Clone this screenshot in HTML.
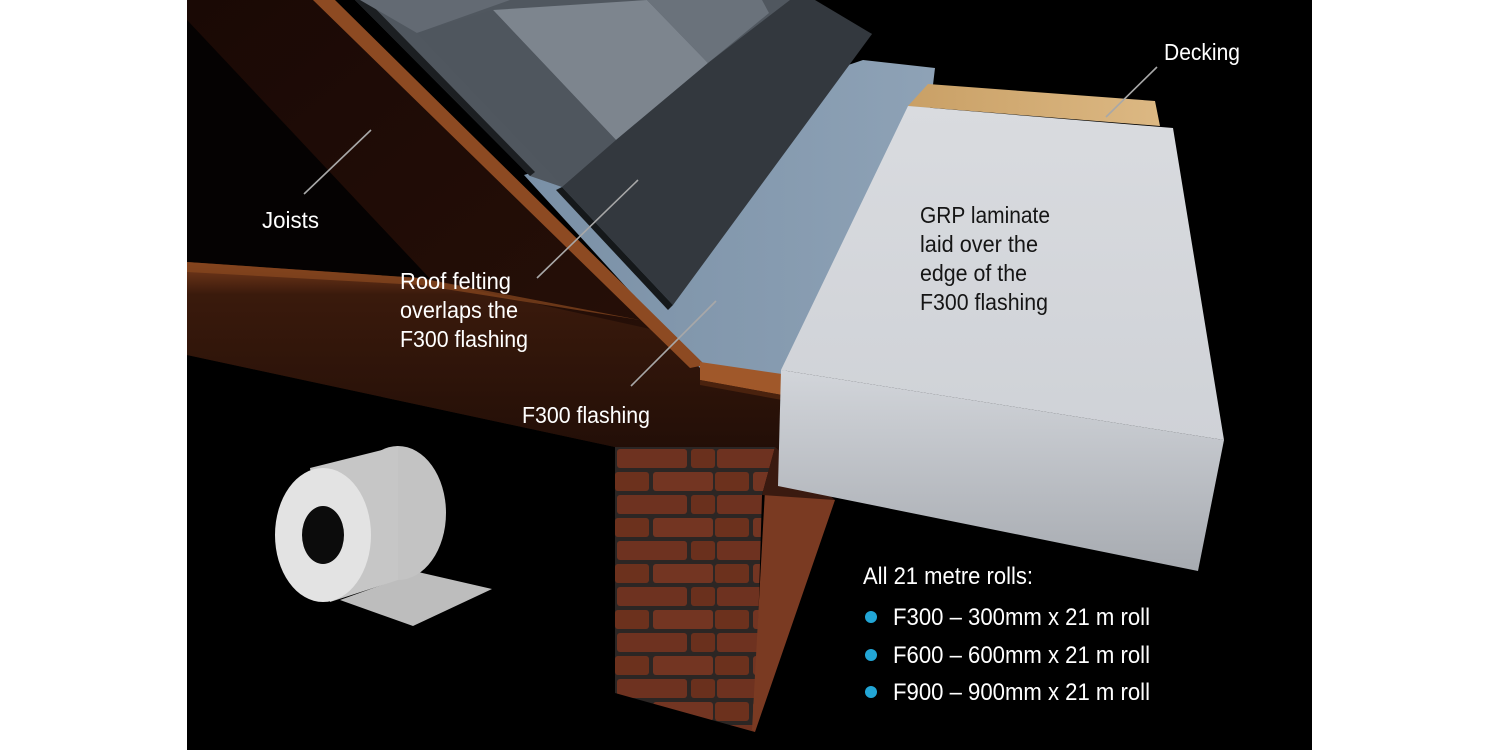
<!DOCTYPE html>
<html><head><meta charset="utf-8"><style>
html,body{margin:0;padding:0;background:#fff;}
svg{display:block}
text{font-family:"Liberation Sans",sans-serif;}
</style></head><body>
<svg width="1500" height="750" viewBox="0 0 1500 750" xmlns="http://www.w3.org/2000/svg">
<defs>
<linearGradient id="beam" x1="0" y1="0" x2="0" y2="1">
<stop offset="0" stop-color="#7a3c1c"/><stop offset="0.15" stop-color="#3a1a0c"/><stop offset="1" stop-color="#1e0c06"/></linearGradient>
<linearGradient id="wall" x1="0" y1="0" x2="1" y2="1">
<stop offset="0" stop-color="#1a0905"/><stop offset="1" stop-color="#2a1108"/></linearGradient>
<linearGradient id="flash" x1="0" y1="0" x2="1" y2="0">
<stop offset="0" stop-color="#7a90a6"/><stop offset="1" stop-color="#8ea2b6"/></linearGradient>
<linearGradient id="topf" x1="0" y1="0" x2="0" y2="1">
<stop offset="0" stop-color="#d9dbdf"/><stop offset="1" stop-color="#cfd2d7"/></linearGradient>
<linearGradient id="front" x1="0" y1="0" x2="0" y2="1">
<stop offset="0" stop-color="#d2d5da"/><stop offset="1" stop-color="#a7abb1"/></linearGradient>
<linearGradient id="deck" x1="0" y1="0" x2="1" y2="0">
<stop offset="0" stop-color="#c9a066"/><stop offset="1" stop-color="#dcb883"/></linearGradient>
<pattern id="brick" width="100" height="46" patternUnits="userSpaceOnUse" x="615" y="447">
<rect width="100" height="46" fill="#2c2624"/>
<rect x="2" y="2" width="70" height="19" rx="3" fill="#6e3220"/>
<rect x="76" y="2" width="24" height="19" rx="3" fill="#6a301d"/>
<rect x="0" y="25" width="34" height="19" rx="3" fill="#6c311d"/>
<rect x="38" y="25" width="60" height="19" rx="3" fill="#733522"/>
</pattern>
</defs>
<rect x="187" y="0" width="1125" height="750" fill="#000"/>
<polygon points="187,0 330,0 700,368 780,392 780,480 615,447 187,355" fill="url(#wall)"/>
<polygon points="187,20 187,262 450,300" fill="#050202"/>
<polygon points="187,262 420,278 700,340 780,395 780,480 615,447 187,355" fill="url(#beam)"/>
<polygon points="187,262 420,278 640,320 420,285 187,272" fill="#8a4820" opacity="0.7"/>
<polygon points="615,447 775,447 762,495 755,732 615,693" fill="url(#brick)"/>
<polygon points="765,490 835,500 755,732 752,730" fill="#7a3a22"/>
<polygon points="775,447 835,500 762,495" fill="#3a1a10"/>
<polygon points="524,175 540,170 863,60 935,68 930,110 781,380 700,368" fill="url(#flash)"/>
<polygon points="355,0 800,0 872,34 562,187 530,176" fill="#50575f"/>
<polygon points="355,0 367,0 535,172 530,176" fill="#1c1f22"/>
<polygon points="360,0 510,0 417,33" fill="#636a73"/>
<polygon points="493,10 647,0 708,63 616,140" fill="#7d858e"/>
<polygon points="647,0 762,0 769,13 708,63" fill="#6a727b"/>
<polygon points="417,33 493,10 616,140 562,185" fill="#4f565e"/>
<polygon points="562,187 616,140 708,63 790,0 815,0 872,34 673,305" fill="#33383e"/>
<polygon points="562,187 673,305 668,310 556,190" fill="#15181a"/>
<polygon points="313,0 335,0 705,365 690,368" fill="#8d4a22"/>
<polygon points="700,362 782,374 782,395 700,380" fill="#a0582a"/>
<polygon points="700,380 782,395 782,400 700,385" fill="#4a220e"/>
<polygon points="928,84 1155,101 1160,126 908,106" fill="url(#deck)"/>
<polygon points="908,106 1173,128 1224,440 781,370" fill="url(#topf)"/>
<polygon points="781,370 1224,440 1198,571 778,486" fill="url(#front)"/>
<polygon points="340,600 418,572 492,589 413,626" fill="#bdbdbd"/>
<ellipse cx="398" cy="513" rx="48" ry="67" fill="#c3c3c3"/>
<polygon points="310,468 398,446 398,580 330,602" fill="#c6c6c6"/>
<ellipse cx="323" cy="535" rx="48" ry="67" fill="#e3e3e3"/>
<ellipse cx="323" cy="535" rx="21" ry="29" fill="#0c0c0c"/>
<g stroke="#a8a8a8" stroke-width="1.6">
<line x1="304" y1="194" x2="371" y2="130"/>
<line x1="537" y1="278" x2="638" y2="180"/>
<line x1="631" y1="386" x2="716" y2="301"/>
<line x1="1106" y1="117" x2="1157" y2="67"/>
</g>
<g fill="#fff" font-size="23" lengthAdjust="spacingAndGlyphs">
<text x="262" y="228" textLength="57" lengthAdjust="spacingAndGlyphs">Joists</text>
<text x="400" y="289" textLength="111" lengthAdjust="spacingAndGlyphs">Roof felting</text>
<text x="400" y="318" textLength="118" lengthAdjust="spacingAndGlyphs">overlaps the</text>
<text x="400" y="347" textLength="128" lengthAdjust="spacingAndGlyphs">F300 flashing</text>
<text x="522" y="423" textLength="128" lengthAdjust="spacingAndGlyphs">F300 flashing</text>
<text x="1164" y="60" textLength="76" lengthAdjust="spacingAndGlyphs">Decking</text>
</g>
<g fill="#151515" font-size="23">
<text x="920" y="223" textLength="130" lengthAdjust="spacingAndGlyphs">GRP laminate</text>
<text x="920" y="252" textLength="118" lengthAdjust="spacingAndGlyphs">laid over the</text>
<text x="920" y="281" textLength="107" lengthAdjust="spacingAndGlyphs">edge of the</text>
<text x="920" y="310" textLength="128" lengthAdjust="spacingAndGlyphs">F300 flashing</text>
</g>
<g fill="#fff" font-size="24">
<text x="863" y="584" textLength="170" lengthAdjust="spacingAndGlyphs">All 21 metre rolls:</text>
<text x="893" y="625" textLength="257" lengthAdjust="spacingAndGlyphs">F300 – 300mm x 21 m roll</text>
<text x="893" y="663" textLength="257" lengthAdjust="spacingAndGlyphs">F600 – 600mm x 21 m roll</text>
<text x="893" y="700" textLength="257" lengthAdjust="spacingAndGlyphs">F900 – 900mm x 21 m roll</text>
</g>
<g fill="#22a6d6">
<circle cx="871" cy="617" r="6"/>
<circle cx="871" cy="655" r="6"/>
<circle cx="871" cy="692" r="6"/>
</g>
</svg>
</body></html>
